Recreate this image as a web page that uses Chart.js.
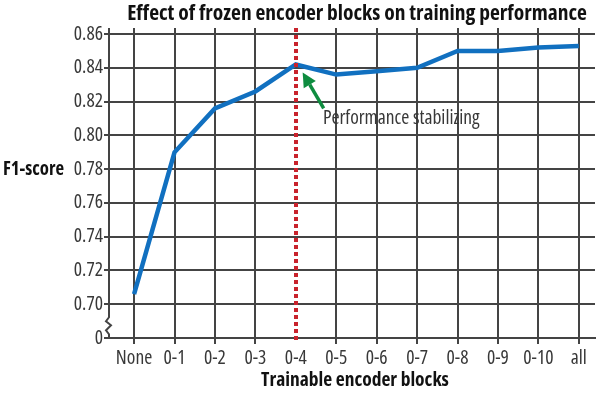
<!DOCTYPE html>
<html>
<head>
<meta charset="utf-8">
<script src="https://cdn.jsdelivr.net/npm/chart.js@4"></script>
<style>
html,body{margin:0;padding:0;background:#fff;}
#wrap{width:600px;height:393px;position:relative;}
</style>
</head>
<body>
<div id="wrap"><canvas id="c" width="600" height="393"></canvas></div>
<script>
const categories = ['None','0-1','0-2','0-3','0-4','0-5','0-6','0-7','0-8','0-9','0-10','all'];
const f1Scores = [0.706, 0.790, 0.816, 0.826, 0.842, 0.836, 0.838, 0.840, 0.850, 0.850, 0.852, 0.853];
const yTickValues = [0.68, 0.70, 0.72, 0.74, 0.76, 0.78, 0.80, 0.82, 0.84, 0.86];
const yTickLabels = ['0', '0.70', '0.72', '0.74', '0.76', '0.78', '0.80', '0.82', '0.84', '0.86'];
const markerIndex = 4;
const titleText = 'Effect of frozen encoder blocks on training performance';
const xTitle = 'Trainable encoder blocks';
const yTitle = 'F1-score';
const noteText = 'Performance stabilizing';

const FAMILY = '"Open Sans", "Liberation Sans", sans-serif';
const GRID = '#444444';
const TEXT = '#383838';

const points = f1Scores.map((v, i) => ({x: i, y: v}));

const extras = {
  id: 'extras',
  afterDatasetsDraw(chart) {
    const ctx = chart.ctx;
    const xs = chart.scales.x, ys = chart.scales.y;
    const area = chart.chartArea;
    ctx.save();
    // red dotted marker line
    const mx = Math.round(xs.getPixelForValue(markerIndex));
    ctx.strokeStyle = '#c8232c';
    ctx.lineWidth = 4;
    ctx.setLineDash([4, 3]);
    ctx.beginPath();
    ctx.moveTo(mx, area.top);
    ctx.lineTo(mx, area.bottom + 5);
    ctx.stroke();
    ctx.setLineDash([]);
    // green arrow
    const tx = xs.getPixelForValue(markerIndex + 0.17), ty = ys.getPixelForValue(0.8372);
    const sx = xs.getPixelForValue(markerIndex + 0.69), sy = ys.getPixelForValue(0.8160);
    const ang = Math.atan2(ty - sy, tx - sx);
    const hl = 14, hw = 7;
    const bx = tx - hl * Math.cos(ang), by = ty - hl * Math.sin(ang);
    ctx.strokeStyle = '#0e8c3f';
    ctx.fillStyle = '#0e8c3f';
    ctx.lineWidth = 3.5;
    ctx.beginPath();
    ctx.moveTo(sx, sy);
    ctx.lineTo(bx, by);
    ctx.stroke();
    ctx.beginPath();
    ctx.moveTo(tx, ty);
    ctx.lineTo(bx + hw * Math.sin(ang), by - hw * Math.cos(ang));
    ctx.lineTo(bx - hw * Math.sin(ang), by + hw * Math.cos(ang));
    ctx.closePath();
    ctx.fill();
    // annotation text
    ctx.fillStyle = TEXT;
    ctx.font = 'condensed 19.5px ' + FAMILY;
    ctx.textAlign = 'left';
    ctx.textBaseline = 'middle';
    ctx.fillText(noteText, xs.getPixelForValue(markerIndex + 0.67), ys.getPixelForValue(0.8103));
    ctx.restore();
  },
  afterDraw(chart) {
    const ctx = chart.ctx;
    const ys = chart.scales.y;
    const area = chart.chartArea;
    ctx.save();
    // y axis line with break zigzag
    const ax = area.left;
    const y70 = ys.getPixelForValue(0.70);
    const yb = area.bottom;
    ctx.strokeStyle = GRID;
    ctx.lineWidth = 2;
    ctx.beginPath();
    ctx.moveTo(ax, area.top);
    ctx.lineTo(ax, y70 + 13);
    ctx.lineTo(ax - 3, y70 + 17);
    ctx.lineTo(ax + 2, y70 + 21);
    ctx.lineTo(ax - 3, y70 + 26);
    ctx.lineTo(ax, y70 + 30);
    ctx.lineTo(ax, yb + 1);
    ctx.stroke();
    // titles
    ctx.fillStyle = '#111';
    ctx.textBaseline = 'middle';
    ctx.textAlign = 'center';
    ctx.font = 'bold condensed 21.5px ' + FAMILY;
    ctx.fillText(titleText, 357, 14);
    ctx.font = 'bold condensed 19.5px ' + FAMILY;
    ctx.fillText(xTitle, 355, 380);
    ctx.textAlign = 'left';
    ctx.font = 'bold condensed 18.8px ' + FAMILY;
    ctx.fillText(yTitle, 3, ys.getPixelForValue(0.78));
    ctx.restore();
  }
};

new Chart(document.getElementById('c'), {
  type: 'line',
  data: {
    datasets: [{
      data: points,
      borderColor: '#1170c0',
      borderWidth: 4.5,
      pointRadius: 0,
      tension: 0,
      fill: false
    }]
  },
  options: {
    responsive: false,
    animation: false,
    layout: {padding: {top: 28, right: 5, left: 0, bottom: 0}},
    plugins: {legend: {display: false}, tooltip: {enabled: false}, title: {display: false}},
    scales: {
      x: {
        type: 'linear',
        min: -0.62,
        max: 11.4,
        afterBuildTicks(scale) {
          scale.ticks = categories.map((c, i) => ({value: i}));
        },
        afterFit(scale) { scale.height = 55; },
        ticks: {
          autoSkip: false,
          maxRotation: 0,
          padding: 3,
          color: TEXT,
          font: {family: FAMILY, size: 19.5, weight: 'condensed'},
          callback: (v) => categories[v] ?? ''
        },
        grid: {
          color: (c) => (c.tick && c.tick.value === markerIndex) ? 'rgba(0,0,0,0)' : GRID,
          lineWidth: 2, tickLength: 6, drawTicks: true
        },
        border: {display: true, color: GRID, width: 2}
      },
      y: {
        type: 'linear',
        min: 0.68,
        max: 0.8636,
        afterBuildTicks(scale) {
          scale.ticks = yTickValues.map(v => ({value: v}));
        },
        afterFit(scale) { scale.width = 109; },
        ticks: {
          padding: 1,
          color: TEXT,
          font: {family: FAMILY, size: 19.5, weight: 'condensed'},
          callback: (v) => {
            const i = yTickValues.findIndex(t => Math.abs(t - v) < 1e-6);
            return i >= 0 ? yTickLabels[i] : '';
          }
        },
        grid: {color: GRID, lineWidth: 2, tickLength: 5},
        border: {display: false}
      }
    }
  },
  plugins: [extras]
});
</script>
</body>
</html>
